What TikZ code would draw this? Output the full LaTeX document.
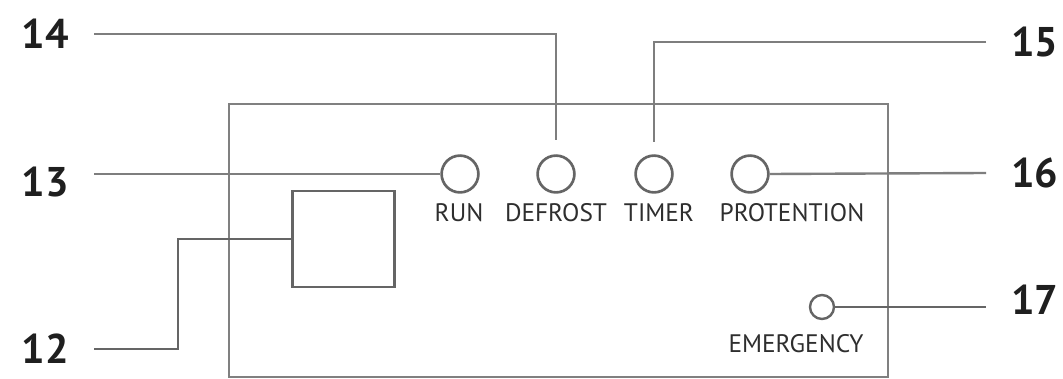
\documentclass[tikz,border=0pt]{standalone}
\usepackage{fontspec}
\setmainfont{PT Sans}
\usetikzlibrary{positioning}
\definecolor{framegray}{HTML}{808080}
\definecolor{leadgray}{HTML}{7E7E7E}
\definecolor{ledgray}{HTML}{656565}
\definecolor{inkgray}{HTML}{2E2E2E}
\tikzset{
  panel/.style={draw=framegray,line width=2.1pt},
  leader/.style={draw=leadgray,line width=1.7pt},
  led/.style={circle,draw=ledgray,line width=1.9pt,inner sep=0pt,minimum size=0.92cm},
  smallled/.style={led,minimum size=0.6cm,line width=1.7pt},
  button/.style={draw=ledgray,line width=1.9pt,minimum width=2.55cm,minimum height=2.4cm,inner sep=0pt},
  caption/.style={anchor=base,inner sep=0pt,text=inkgray,font=\fontsize{18}{20}\selectfont},
  numlabel/.style={inner xsep=0.62cm,inner ysep=0pt,text=black!88,font=\fontsize{29.5}{31}\selectfont\bfseries}
}
\begin{document}
\begin{tikzpicture}[x=0.025cm,y=-0.025cm]
\useasboundingbox[fill=white] (0,0) rectangle (1063,379);
% control panel
\draw[panel] (229,104) rectangle (888,377);
\node[button] (button) at (343.5,239) {};
\node[led] (run) at (460,174) {};
\node[led] (defrost) at (556,174) {};
\node[led] (timer) at (654,174) {};
\node[led] (protention) at (750,174) {};
\node[smallled] (emergency) at (822,307) {};
\node[caption] (runtxt) at (459,222) {RUN};
\node[caption] (defrosttxt) at (556,222) {DEFROST};
\node[caption] (timertxt) at (659,222) {TIMER};
\node[caption] (protentiontxt) at (792,222) {PROTENTION};
\node[caption] (emergencytxt) at (796,352) {EMERGENCY};
% numbers
\node[numlabel,anchor=east] (n14) at (94,34) {14};
\node[numlabel,anchor=east] (n13) at (94,182) {13};
\node[numlabel,anchor=east] (n12) at (94,349) {12};
\node[numlabel,anchor=west] (n15) at (986,42) {15};
\node[numlabel,anchor=west] (n16) at (986,173) {16};
\node[numlabel,anchor=west] (n17) at (986,300) {17};
\coordinate (bend12) at (178,349);
% leaders
\draw[leader,shorten >=0.36cm] (n14.east) -| (defrost.north);
\draw[leader,shorten >=0.3cm] (n15.west) -| (timer.north);
\draw[leader] (n13.east |- run) -- (run.west);
\draw[leader,line width=1.3pt,draw=ledgray] (button.west) -| (bend12) -- (n12.east);
\draw[leader] (protention.east) -- (n16.west);
\draw[leader,line width=1.3pt,draw=ledgray] (emergency.east) -- (n17.west |- emergency);
\end{tikzpicture}
\end{document}
